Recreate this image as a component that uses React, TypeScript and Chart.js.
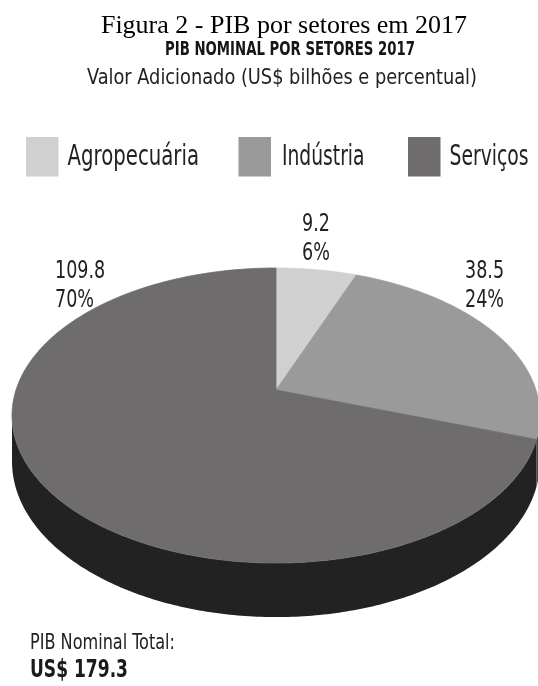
import React, { useEffect, useRef } from "react";
import { Chart, registerables } from "chart.js";

Chart.register(...registerables);

// ---------- data ----------
const categories = ["Agropecuária", "Indústria", "Serviços"];
const values = [9.2, 38.5, 109.8];
const valueLabels = ["9.2", "38.5", "109.8"];
const percentLabels = ["6%", "24%", "70%"];
const totalLabel = "US$ 179.3";

const titleText = "Figura 2 - PIB por setores em 2017";
const subtitleText = "PIB NOMINAL POR SETORES 2017";
const subtitle2Text = "Valor Adicionado (US$ bilhões e percentual)";
const footerText = "PIB Nominal Total:";

// ---------- styles ----------
const topColors = ["#d0d0d0", "#9b9a9b", "#6e6c6d"];
const sideColors = ["#8a8a8a", "#4a4a4a", "#222222"];
const NARROW = '"DejaVu Sans Condensed", "Liberation Sans Narrow", "Liberation Sans", sans-serif';
const SERIF = '"Liberation Serif", "Times New Roman", serif';

// perspective of the 3D pie
const K = 0.173; // perspective strength
const SY = 0.5504; // vertical squash
const DEPTH = 0.172; // thickness relative to radius

// label layout: [x, align, baseline line1, baseline line2]
const labelLayout: [number, CanvasTextAlign, number, number][] = [
  [316, "center", 231, 260],
  [465, "left", 278, 307],
  [55, "left", 278, 307],
];
const legendBoxX = [26, 238.5, 408];
const legendTextX: [number, number][] = [
  [67.6, 199],
  [282, 364.5],
  [449.5, 528.5],
];

function proj(cx: number, cy: number, R: number, ang: number, r: number, h: number): [number, number] {
  const u = r * Math.cos(ang);
  const v = -r * Math.sin(ang);
  const w = 1 + K * v;
  return [cx + (R * u) / w, cy - (R * SY * v) / w + (h * R * DEPTH) / w];
}

function fitText(ctx: CanvasRenderingContext2D, text: string, font: string, x0: number, x1: number, baseline: number, color: string) {
  ctx.save();
  ctx.font = font;
  ctx.fillStyle = color;
  ctx.textAlign = "left";
  ctx.textBaseline = "alphabetic";
  const w = ctx.measureText(text).width;
  const s = (x1 - x0) / w;
  ctx.translate(x0, baseline);
  ctx.scale(s, 1);
  ctx.fillText(text, 0, 0);
  ctx.restore();
}

function scaledText(ctx: CanvasRenderingContext2D, text: string, font: string, x: number, align: CanvasTextAlign, baseline: number, sx: number, color: string) {
  ctx.save();
  ctx.font = font;
  ctx.fillStyle = color;
  ctx.textAlign = align;
  ctx.textBaseline = "alphabetic";
  ctx.translate(x, baseline);
  ctx.scale(sx, 1);
  ctx.fillText(text, 0, 0);
  ctx.restore();
}

const pie3d = {
  id: "pie3d",
  beforeDatasetsDraw(chart: any) {
    const ctx: CanvasRenderingContext2D = chart.ctx;
    const arcs = chart.getDatasetMeta(0).data as any[];
    const a0 = Math.asin(K);
    const a1 = Math.PI - Math.asin(K);
    ctx.save();
    // side walls (front visible part)
    arcs.forEach((arc: any, i: number) => {
      const p = arc.getProps(["x", "y", "startAngle", "endAngle", "outerRadius"], true);
      for (const shift of [0, -2 * Math.PI, 2 * Math.PI]) {
        const s = Math.max(p.startAngle + shift, a0);
        const e = Math.min(p.endAngle + shift, a1);
        if (e <= s) continue;
        const N = Math.max(8, Math.ceil((e - s) * 80));
        ctx.beginPath();
        for (let j = 0; j <= N; j++) {
          const a = s + ((e - s) * j) / N;
          const q = proj(p.x, p.y, p.outerRadius, a, 1, 0);
          if (j === 0) ctx.moveTo(q[0], q[1]);
          else ctx.lineTo(q[0], q[1]);
        }
        for (let j = N; j >= 0; j--) {
          const a = s + ((e - s) * j) / N;
          const q = proj(p.x, p.y, p.outerRadius, a, 1, 1);
          ctx.lineTo(q[0], q[1]);
        }
        ctx.closePath();
        ctx.fillStyle = sideColors[i];
        ctx.fill();
      }
    });
    // top faces
    arcs.forEach((arc: any, i: number) => {
      const p = arc.getProps(["x", "y", "startAngle", "endAngle", "outerRadius"], true);
      const s = p.startAngle;
      const e = p.endAngle;
      const N = Math.max(8, Math.ceil((e - s) * 80));
      ctx.beginPath();
      ctx.moveTo(p.x, p.y);
      for (let j = 0; j <= N; j++) {
        const a = s + ((e - s) * j) / N;
        const q = proj(p.x, p.y, p.outerRadius, a, 1, 0);
        ctx.lineTo(q[0], q[1]);
      }
      ctx.closePath();
      ctx.fillStyle = topColors[i];
      ctx.fill();
      ctx.strokeStyle = topColors[i];
      ctx.lineWidth = 0.8;
      ctx.lineJoin = "round";
      ctx.stroke();
    });
    ctx.restore();
    return false;
  },
};

const textsPlugin = {
  id: "texts",
  afterDraw(chart: any) {
    const ctx: CanvasRenderingContext2D = chart.ctx;
    // titles
    ctx.save();
    ctx.font = `26px ${SERIF}`;
    ctx.fillStyle = "#000";
    ctx.textAlign = "center";
    ctx.textBaseline = "alphabetic";
    ctx.fillText(titleText, 284, 33);
    ctx.restore();
    fitText(ctx, subtitleText, `bold 19px ${NARROW}`, 165, 415, 55, "#151515");
    fitText(ctx, subtitle2Text, `21px ${NARROW}`, 87, 477, 84, "#222");

    // legend
    categories.forEach((c, i) => {
      ctx.save();
      ctx.fillStyle = topColors[i];
      ctx.fillRect(legendBoxX[i], 137, 32.5, 39.5);
      ctx.restore();
      fitText(ctx, c, `28px ${NARROW}`, legendTextX[i][0], legendTextX[i][1], 165, "#222");
    });

    // value labels
    values.forEach((_, i) => {
      const [x, align, b1, b2] = labelLayout[i];
      scaledText(ctx, valueLabels[i], `25px ${NARROW}`, x, align, b1, 0.78, "#222");
      scaledText(ctx, percentLabels[i], `25px ${NARROW}`, x, align, b2, 0.78, "#222");
    });

    // footer
    fitText(ctx, footerText, `22px ${NARROW}`, 30, 175, 649, "#222");
    fitText(ctx, totalLabel, `bold 24px ${NARROW}`, 30, 128, 677, "#1a1a1a");
  },
};

export default function App() {
  const ref = useRef<HTMLCanvasElement | null>(null);
  useEffect(() => {
    document.body.style.margin = "0";
    const canvas = ref.current;
    if (!canvas) return;
    const chart = new Chart(canvas, {
      type: "pie",
      data: {
        labels: categories,
        datasets: [
          {
            data: values,
            backgroundColor: topColors,
            borderWidth: 0,
          },
        ],
      },
      options: {
        responsive: false,
        animation: false,
        devicePixelRatio: 1,
        events: [],
        layout: { padding: { left: 16, right: 2, top: 130, bottom: 36 } },
        plugins: {
          legend: { display: false },
          tooltip: { enabled: false },
          title: { display: false },
        },
      },
      plugins: [pie3d, textsPlugin],
    } as any);
    return () => chart.destroy();
  }, []);
  return (
    <div style={{ width: 538, height: 686, background: "#fff" }}>
      <canvas ref={ref} width={538} height={686} style={{ display: "block" }} />
    </div>
  );
}
